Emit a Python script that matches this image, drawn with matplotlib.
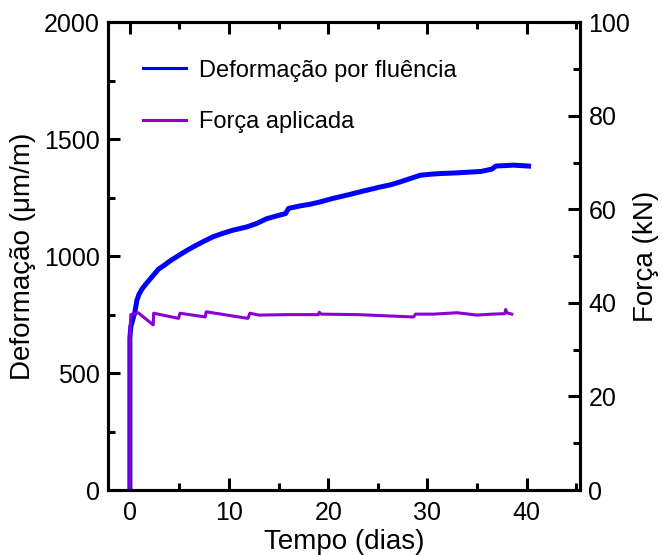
import numpy as np
import matplotlib
matplotlib.use("Agg")
import matplotlib.pyplot as plt
from matplotlib.ticker import MultipleLocator
from matplotlib.lines import Line2D

plt.rcParams['font.family'] = ['Liberation Sans', 'DejaVu Sans']

# creep strain (um/m) vs time (days)
t_def = [0.0, 0.0, 0.1, 0.3, 0.5, 0.7, 0.9, 1.2, 1.6, 2.0, 2.5, 2.9, 3.5, 4.0,
         4.7, 5.5, 6.4, 7.3, 8.4, 9.4, 10.4, 11.8, 12.8, 13.8, 14.8, 15.7, 16.0,
         17.2, 18.2, 19.2, 20.5, 22.0, 23.9, 25.3, 26.3, 27.3, 28.3, 29.3, 30.3,
         31.3, 33.0, 35.4, 36.5, 36.9, 37.8, 38.7, 40.2]
deform = [0, 650, 700, 730, 760, 810, 835, 858, 880, 900, 925, 945, 962, 978,
          997, 1018, 1040, 1060, 1083, 1098, 1111, 1125, 1140, 1160, 1172, 1182, 1204,
          1215, 1222, 1232, 1247, 1262, 1282, 1296, 1305, 1318, 1332, 1346, 1350,
          1353, 1356, 1362, 1372, 1385, 1387, 1389, 1385]

# applied force (kN) vs time (days)
t_forca = [0.0, 0.0, 0.1, 0.84, 2.35, 2.4, 4.9, 5.05, 7.6, 7.7, 11.9, 12.1, 13.0,
           16.0, 19.0, 19.1, 19.3, 23.0, 26.3, 28.6, 28.8, 30.6, 33.0, 35.0, 36.5,
           37.8, 37.9, 38.0, 38.5]
forca = [0.0, 33.5, 37.5, 37.9, 35.3, 37.8, 36.7, 37.8, 37.0, 38.1, 36.7, 37.8, 37.4,
         37.5, 37.5, 38.0, 37.6, 37.5, 37.2, 37.0, 37.6, 37.6, 37.9, 37.4, 37.6,
         37.7, 38.6, 37.9, 37.6]

azul = '#0000FF'
roxo = '#8A00D4'

fig = plt.figure(figsize=(6.63, 5.55), dpi=100)
ax1 = fig.add_axes([0.163, 0.117, 0.712, 0.843])
ax2 = ax1.twinx()

ax1.plot(t_def, deform, color=azul, lw=3.6, solid_joinstyle='round')
ax2.plot(t_forca, forca, color=roxo, lw=2.2)

ax1.set_xlim(-2.2, 45.4)
ax1.set_ylim(0, 2000)
ax2.set_ylim(0, 100)

ax1.xaxis.set_major_locator(MultipleLocator(10))
ax1.xaxis.set_minor_locator(MultipleLocator(5))
ax1.yaxis.set_major_locator(MultipleLocator(500))
ax1.yaxis.set_minor_locator(MultipleLocator(250))
ax2.yaxis.set_major_locator(MultipleLocator(20))
ax2.yaxis.set_minor_locator(MultipleLocator(10))

ax1.tick_params(which='both', direction='in', width=2.2, top=True, right=False,
                labelsize=18)
ax1.tick_params(axis='x', pad=8)
ax1.tick_params(axis='y', pad=6)
ax2.tick_params(which='both', direction='in', width=2.2, labelsize=18, pad=6)
for ax in (ax1, ax2):
    ax.tick_params(which='major', length=8.5)
    ax.tick_params(which='minor', length=5)
    for s in ax.spines.values():
        s.set_linewidth(2.2)

ax1.set_xlabel('Tempo (dias)', fontsize=20, labelpad=3)
ax1.set_ylabel('Deformação (μm/m)', fontsize=20, labelpad=6)
ax2.set_ylabel('Força (kN)', fontsize=20, rotation=90, labelpad=2)

handles = [Line2D([], [], color=azul, lw=2.2), Line2D([], [], color=roxo, lw=2.2)]
ax2.legend(handles, ['Deformação por fluência', 'Força aplicada'],
           loc='upper left', bbox_to_anchor=(0.075, 0.92),
           frameon=False, fontsize=17, handlelength=1.8, handletextpad=0.55,
           labelspacing=1.25, borderaxespad=0, borderpad=0)

fig.savefig('out.png', dpi=100)
